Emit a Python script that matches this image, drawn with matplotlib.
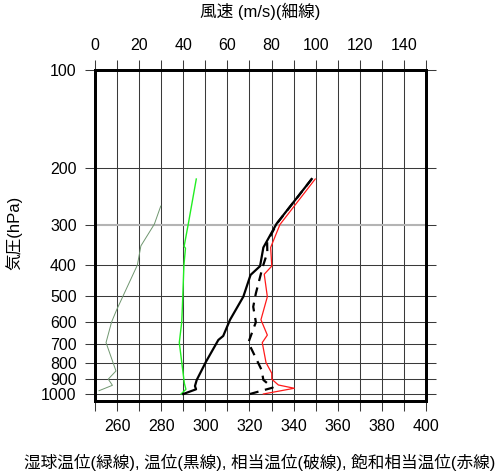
import matplotlib
matplotlib.use("Agg")
import matplotlib.pyplot as plt
from matplotlib.ticker import NullLocator

plt.rcParams['font.family'] = ['Liberation Sans', 'Noto Sans CJK JP', 'DejaVu Sans']
plt.rcParams['font.size'] = 11.5

# Wind speed (m/s) - thin line, top axis
p_wind = [977, 940, 900, 849, 694, 600, 550, 400, 349, 299, 263]
wind = [1.8, 7.9, 6.0, 9.5, 5.0, 7.5, 9.8, 19.2, 20.8, 26.9, 29.8]

# Wet-bulb potential temperature (green)
p_wb = [1000, 967, 927, 694, 600, 538, 400, 355, 350, 298, 217]
wb = [289.0, 291.2, 290.5, 288.2, 289.3, 289.6, 290.3, 291.0, 290.4, 292.3, 295.9]

# Potential temperature (black)
p_th = [1000, 967, 945, 905, 795, 681, 662, 590, 501, 429, 403, 353, 298, 217]
th = [290.0, 295.8, 295.3, 296.1, 300.3, 305.9, 308.1, 311.2, 317.2, 320.5, 324.8, 326.3, 332.3, 348.2]

# Equivalent potential temperature (dashed)
p_the = [1000, 956, 905, 843, 694, 600, 538, 489, 405, 366, 340, 298, 217]
the = [320.2, 330.5, 326.3, 325.5, 319.5, 322.9, 321.7, 322.9, 326.0, 328.1, 328.0, 332.4, 348.2]

# Saturated equivalent potential temperature (red)
p_thes = [1000, 960, 938, 900, 863, 800, 694, 658, 590, 501, 427, 403, 353, 300, 217]
thes = [326.3, 340.3, 333.1, 330.1, 330.1, 327.5, 325.8, 328.1, 325.2, 328.1, 326.7, 330.1, 329.6, 333.8, 349.8]

p_levels = [100, 200, 300, 400, 500, 600, 700, 800, 900, 1000]
temp_ticks = list(range(250, 401, 10))
wind_ticks = list(range(0, 151, 10))

W, H = 497, 472
fig = plt.figure(figsize=(W / 100, H / 100), dpi=100)
ax = fig.add_axes([95 / W, 1 - 401 / H, 331 / W, 331 / H])

ax.set_yscale('log')
ax.set_ylim(1051, 100)
ax.set_xlim(250, 400)
ax.yaxis.set_minor_locator(NullLocator())
ax.set_yticks(p_levels)
ax.set_yticklabels([str(p) for p in p_levels])
ax.set_xticks(temp_ticks)
ax.set_xticklabels([str(t) if (t - 260) % 20 == 0 and t >= 260 else '' for t in temp_ticks])

grid_c = '#3a3a3a'
for t in temp_ticks[1:-1]:
    ax.axvline(t, color=grid_c, lw=0.75, zorder=1)
for p in p_levels[1:]:
    if p == 300:
        ax.axhline(p, color='#b4b4b4', lw=1.5, zorder=1)
    else:
        ax.axhline(p, color=grid_c, lw=0.75, zorder=1)

ax.tick_params(axis='x', which='major', direction='out', length=7.2, width=0.75,
               color=grid_c, pad=6, labelsize=11.5, top=False)
ax.tick_params(axis='y', which='major', direction='out', length=7.2, width=0.75,
               color=grid_c, pad=6, labelsize=11.5, right=True)

ax.plot(wb, p_wb, color='#22ee22', lw=1.0, zorder=3)
ax.plot(thes, p_thes, color='#ff1a1a', lw=0.9, zorder=3)
ax.plot(the, p_the, color='black', lw=1.6, ls=(0, (4, 3)), zorder=4)
ax.plot(th, p_th, color='black', lw=1.6, zorder=5)

ax2 = ax.twiny()
ax2.set_xlim(0, 150)
ax2.set_xticks(wind_ticks)
ax2.set_xticklabels([str(w) if w % 20 == 0 and w <= 140 else '' for w in wind_ticks])
ax2.tick_params(axis='x', which='major', direction='out', length=7.2, width=0.75,
                color=grid_c, pad=5, labelsize=11.5)
ax2.plot(wind, p_wind, color='#6f966f', lw=0.7, zorder=3)

for a in (ax, ax2):
    for s in a.spines.values():
        s.set_linewidth(2.0)
        s.set_color('black')

fig.text(260 / W, 1 - 11 / H, '風速 (m/s)(細線)', ha='center', va='center', fontsize=12)
fig.text(14 / W, 1 - 233 / H, '気圧(hPa)', ha='center', va='center', rotation=90, fontsize=12)
fig.text(260 / W, 1 - 462 / H, '湿球温位(緑線), 温位(黒線), 相当温位(破線), 飽和相当温位(赤線)',
         ha='center', va='center', fontsize=12)

fig.savefig('out.png', dpi=100)
